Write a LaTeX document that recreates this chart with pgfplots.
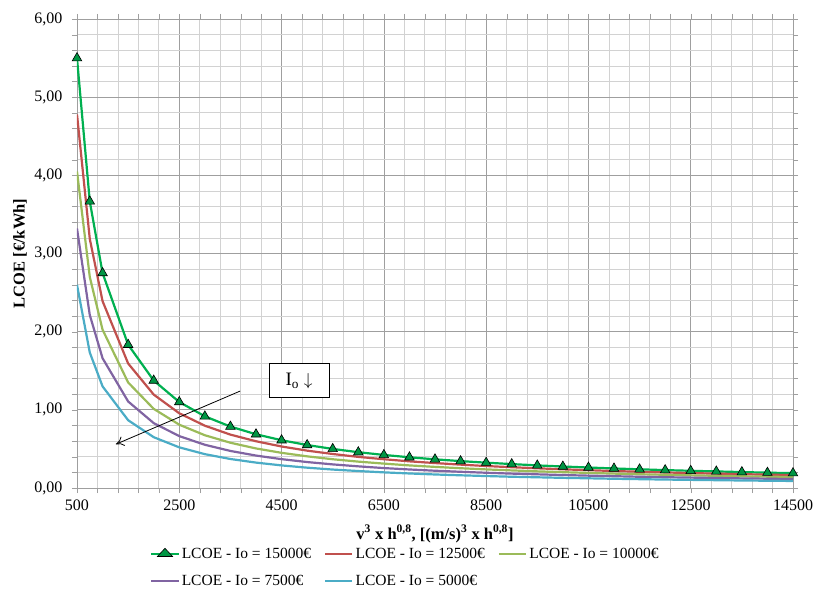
\documentclass[border=0pt]{standalone}
\usepackage{fontspec}
\setmainfont{Liberation Serif}
\usepackage{pgfplots}
\pgfplotsset{compat=1.18}
\usetikzlibrary{arrows.meta}
\definecolor{cG}{HTML}{00B050}
\definecolor{cR}{HTML}{C0504D}
\definecolor{cL}{HTML}{9BBB59}
\definecolor{cP}{HTML}{8064A2}
\definecolor{cB}{HTML}{4BACC6}
\begin{document}
\begin{tikzpicture}
\begin{axis}[
  name=ax,
  scale only axis, width=716pt, height=469pt,
  xmin=500, xmax=14500, ymin=0, ymax=6,
  scaled ticks=false,
  xtick={500,2500,4500,6500,8500,10500,12500,14500},
  xticklabels={500,2500,4500,6500,8500,10500,12500,14500},
  ytick={0,1,2,3,4,5,6},
  yticklabels={{0,00},{1,00},{2,00},{3,00},{4,00},{5,00},{6,00}},
  minor x tick num=4, minor y tick num=4,
  grid=both,
  major grid style={draw=gray!75, line width=0.7pt},
  minor grid style={draw=gray!35, line width=0.7pt},
  axis line style={draw=gray!75},
  tick align=outside, tick style={draw=gray!75},
  major tick length=5pt, minor tick length=5pt,
  tick label style={font=\fontsize{16}{18}\selectfont},
  yticklabel style={xshift=-6pt},
  xticklabel style={yshift=-3pt},
  xlabel={\textbf{v\textsuperscript{3} x h\textsuperscript{0,8}, [(m/s)\textsuperscript{3} x h\textsuperscript{0,8}]}},
  ylabel={\textbf{LCOE [€/kWh]}},
  label style={font=\fontsize{16.5}{18}\selectfont},
  xlabel style={at={(0.5,0)}, anchor=center, yshift=-46pt},
  ylabel style={at={(0,0.5)}, anchor=center, yshift=57pt},
  legend columns=3,
  legend cell align=left,
  legend style={draw=none, fill=none, at={(0.102,-0.123)}, anchor=north west,
    font=\fontsize{15.5}{18}\selectfont, /tikz/every even column/.append style={column sep=11pt},
    row sep=11pt, inner sep=0pt},
  legend image post style={xscale=1.6},
]
\addplot[cG, line width=2.2pt, mark=triangle*, mark size=5.5pt, mark options={fill=cG!85!black, draw=black, line width=0.6pt}] coordinates {
(500,5.50) (750,3.667) (1000,2.75) (1500,1.833) (2000,1.375) (2500,1.10) (3000,0.917) (3500,0.786) (4000,0.6875) (4500,0.611) (5000,0.55) (5500,0.50) (6000,0.458) (6500,0.423) (7000,0.393) (7500,0.367) (8000,0.344) (8500,0.324) (9000,0.306) (9500,0.289) (10000,0.275) (10500,0.262) (11000,0.25) (11500,0.239) (12000,0.229) (12500,0.22) (13000,0.212) (13500,0.204) (14000,0.196) (14500,0.190)};
\addplot[cR, line width=2.2pt, mark=none] coordinates {
(500,4.78) (750,3.187) (1000,2.39) (1500,1.593) (2000,1.195) (2500,0.956) (3000,0.797) (3500,0.683) (4000,0.598) (4500,0.531) (5000,0.478) (5500,0.435) (6000,0.398) (6500,0.368) (7000,0.341) (7500,0.319) (8000,0.299) (8500,0.281) (9000,0.266) (9500,0.252) (10000,0.239) (10500,0.228) (11000,0.217) (11500,0.208) (12000,0.199) (12500,0.191) (13000,0.184) (13500,0.177) (14000,0.171) (14500,0.165)};
\addplot[cL, line width=2.2pt, mark=none] coordinates {
(500,4.05) (750,2.70) (1000,2.025) (1500,1.35) (2000,1.0125) (2500,0.81) (3000,0.675) (3500,0.579) (4000,0.506) (4500,0.45) (5000,0.405) (5500,0.368) (6000,0.3375) (6500,0.312) (7000,0.289) (7500,0.27) (8000,0.253) (8500,0.238) (9000,0.225) (9500,0.213) (10000,0.2025) (10500,0.193) (11000,0.184) (11500,0.176) (12000,0.169) (12500,0.162) (13000,0.156) (13500,0.15) (14000,0.145) (14500,0.140)};
\addplot[cP, line width=2.2pt, mark=none] coordinates {
(500,3.32) (750,2.213) (1000,1.66) (1500,1.107) (2000,0.83) (2500,0.664) (3000,0.553) (3500,0.474) (4000,0.415) (4500,0.369) (5000,0.332) (5500,0.302) (6000,0.277) (6500,0.255) (7000,0.237) (7500,0.221) (8000,0.2075) (8500,0.195) (9000,0.184) (9500,0.175) (10000,0.166) (10500,0.158) (11000,0.151) (11500,0.144) (12000,0.138) (12500,0.133) (13000,0.128) (13500,0.123) (14000,0.119) (14500,0.114)};
\addplot[cB, line width=2.2pt, mark=none] coordinates {
(500,2.60) (750,1.733) (1000,1.30) (1500,0.867) (2000,0.65) (2500,0.52) (3000,0.433) (3500,0.371) (4000,0.325) (4500,0.289) (5000,0.26) (5500,0.236) (6000,0.217) (6500,0.20) (7000,0.186) (7500,0.173) (8000,0.1625) (8500,0.153) (9000,0.144) (9500,0.137) (10000,0.13) (10500,0.124) (11000,0.118) (11500,0.113) (12000,0.108) (12500,0.104) (13000,0.10) (13500,0.096) (14000,0.093) (14500,0.090)};
\legend{LCOE - Io = 15000€, LCOE - Io = 12500€, LCOE - Io = 10000€, LCOE - Io = 7500€, LCOE - Io = 5000€}
\draw[-{To[length=8pt,width=10pt]}, line width=0.8pt] (axis cs:3690,1.24) -- (axis cs:1260,0.56);
\node[draw=black, fill=white, line width=0.9pt, minimum width=60pt, minimum height=34pt, font=\fontsize{19}{21}\selectfont] at (axis cs:4840,1.37) {I\textsubscript{o} $\downarrow$};
\end{axis}
\pgfresetboundingbox
\path ([shift={(-77pt,-120pt)}]ax.south west) rectangle ([shift={(21pt,19pt)}]ax.north east);
\end{tikzpicture}
\end{document}
